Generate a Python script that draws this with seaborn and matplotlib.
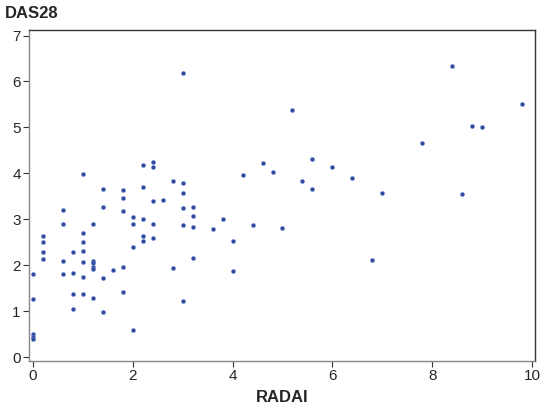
import numpy as np
import pandas as pd
import seaborn as sns
import matplotlib.pyplot as plt

# RADAI vs DAS28 values
radai = [0, 0, 0, 0, 0,
         0.2, 0.2, 0.2, 0.2,
         0.6, 0.6, 0.6, 0.6,
         0.8, 0.8, 0.8, 0.8,
         1.0, 1.0, 1.0, 1.0, 1.0, 1.0, 1.0,
         1.2, 1.2, 1.2, 1.2, 1.2, 1.2,
         1.4, 1.4, 1.4, 1.4,
         1.6,
         1.8, 1.8, 1.8, 1.8, 1.8,
         2.0, 2.0, 2.0, 2.0,
         2.2, 2.2, 2.2, 2.2, 2.2,
         2.4, 2.4, 2.4, 2.4, 2.4,
         2.6,
         2.8, 2.8,
         3.0, 3.0, 3.0, 3.0, 3.0, 3.0,
         3.2, 3.2, 3.2, 3.2,
         3.6, 3.8, 4.0, 4.0, 4.2, 4.4, 4.6, 4.8, 5.0, 5.2, 5.4,
         5.6, 5.6, 6.0, 6.4, 6.8, 7.0, 7.8, 8.4, 8.6, 8.8, 9.0, 9.8]
das28 = [1.82, 1.26, 0.50, 0.45, 0.40,
         2.63, 2.51, 2.29, 2.13,
         3.21, 2.90, 2.10, 1.82,
         2.30, 1.84, 1.38, 1.05,
         3.99, 2.70, 2.51, 2.32, 2.07, 1.74, 1.37,
         2.90, 2.09, 2.05, 1.96, 1.93, 1.28,
         3.66, 3.26, 1.72, 0.99,
         1.91,
         3.64, 3.46, 3.18, 1.97, 1.42,
         3.05, 2.89, 2.40, 0.59,
         4.18, 3.71, 3.01, 2.64, 2.53,
         4.24, 4.13, 3.40, 2.90, 2.59,
         3.42,
         3.84, 1.94,
         6.18, 3.80, 3.57, 3.24, 2.87, 1.23,
         3.26, 3.08, 2.84, 2.17,
         2.79, 3.00, 2.54, 1.87, 3.97, 2.88, 4.22, 4.03, 2.82, 5.38, 3.83,
         4.32, 3.66, 4.13, 3.89, 2.12, 3.57, 4.67, 6.34, 3.55, 5.04, 5.00, 5.50]

df = pd.DataFrame({'RADAI': radai, 'DAS28': das28})

sns.set_style('white')
plt.rcParams['font.family'] = ['Liberation Sans', 'DejaVu Sans']

fig = plt.figure(figsize=(5.5, 4.13), dpi=100)
ax = fig.add_axes([0.0527, 0.1259, 0.92, 0.8015])

sns.scatterplot(data=df, x='RADAI', y='DAS28', ax=ax, color='#2f4aa0',
                s=9, edgecolor='#7a8fd0', linewidth=0.3)

ax.set_xlim(-0.08, 10.06)
ax.set_ylim(-0.08, 7.12)
ax.set_xticks([0, 2, 4, 6, 8, 10])
ax.set_yticks(range(0, 8))
ax.tick_params(axis='both', direction='out', length=4, width=0.8,
               labelsize=11, color='#333333', pad=2, left=True, bottom=True)
for side in ['left', 'bottom']:
    ax.spines[side].set_color('#888888')
    ax.spines[side].set_linewidth(1.0)
for side in ['top', 'right']:
    ax.spines[side].set_color('#333333')
    ax.spines[side].set_linewidth(1.0)

ax.set_xlabel('RADAI', fontsize=12, fontweight='bold', labelpad=5)
ax.set_ylabel('')
fig.text(0.009, 0.968, 'DAS28', fontsize=12, fontweight='bold', va='center', ha='left')

plt.savefig('out.png', dpi=100)
